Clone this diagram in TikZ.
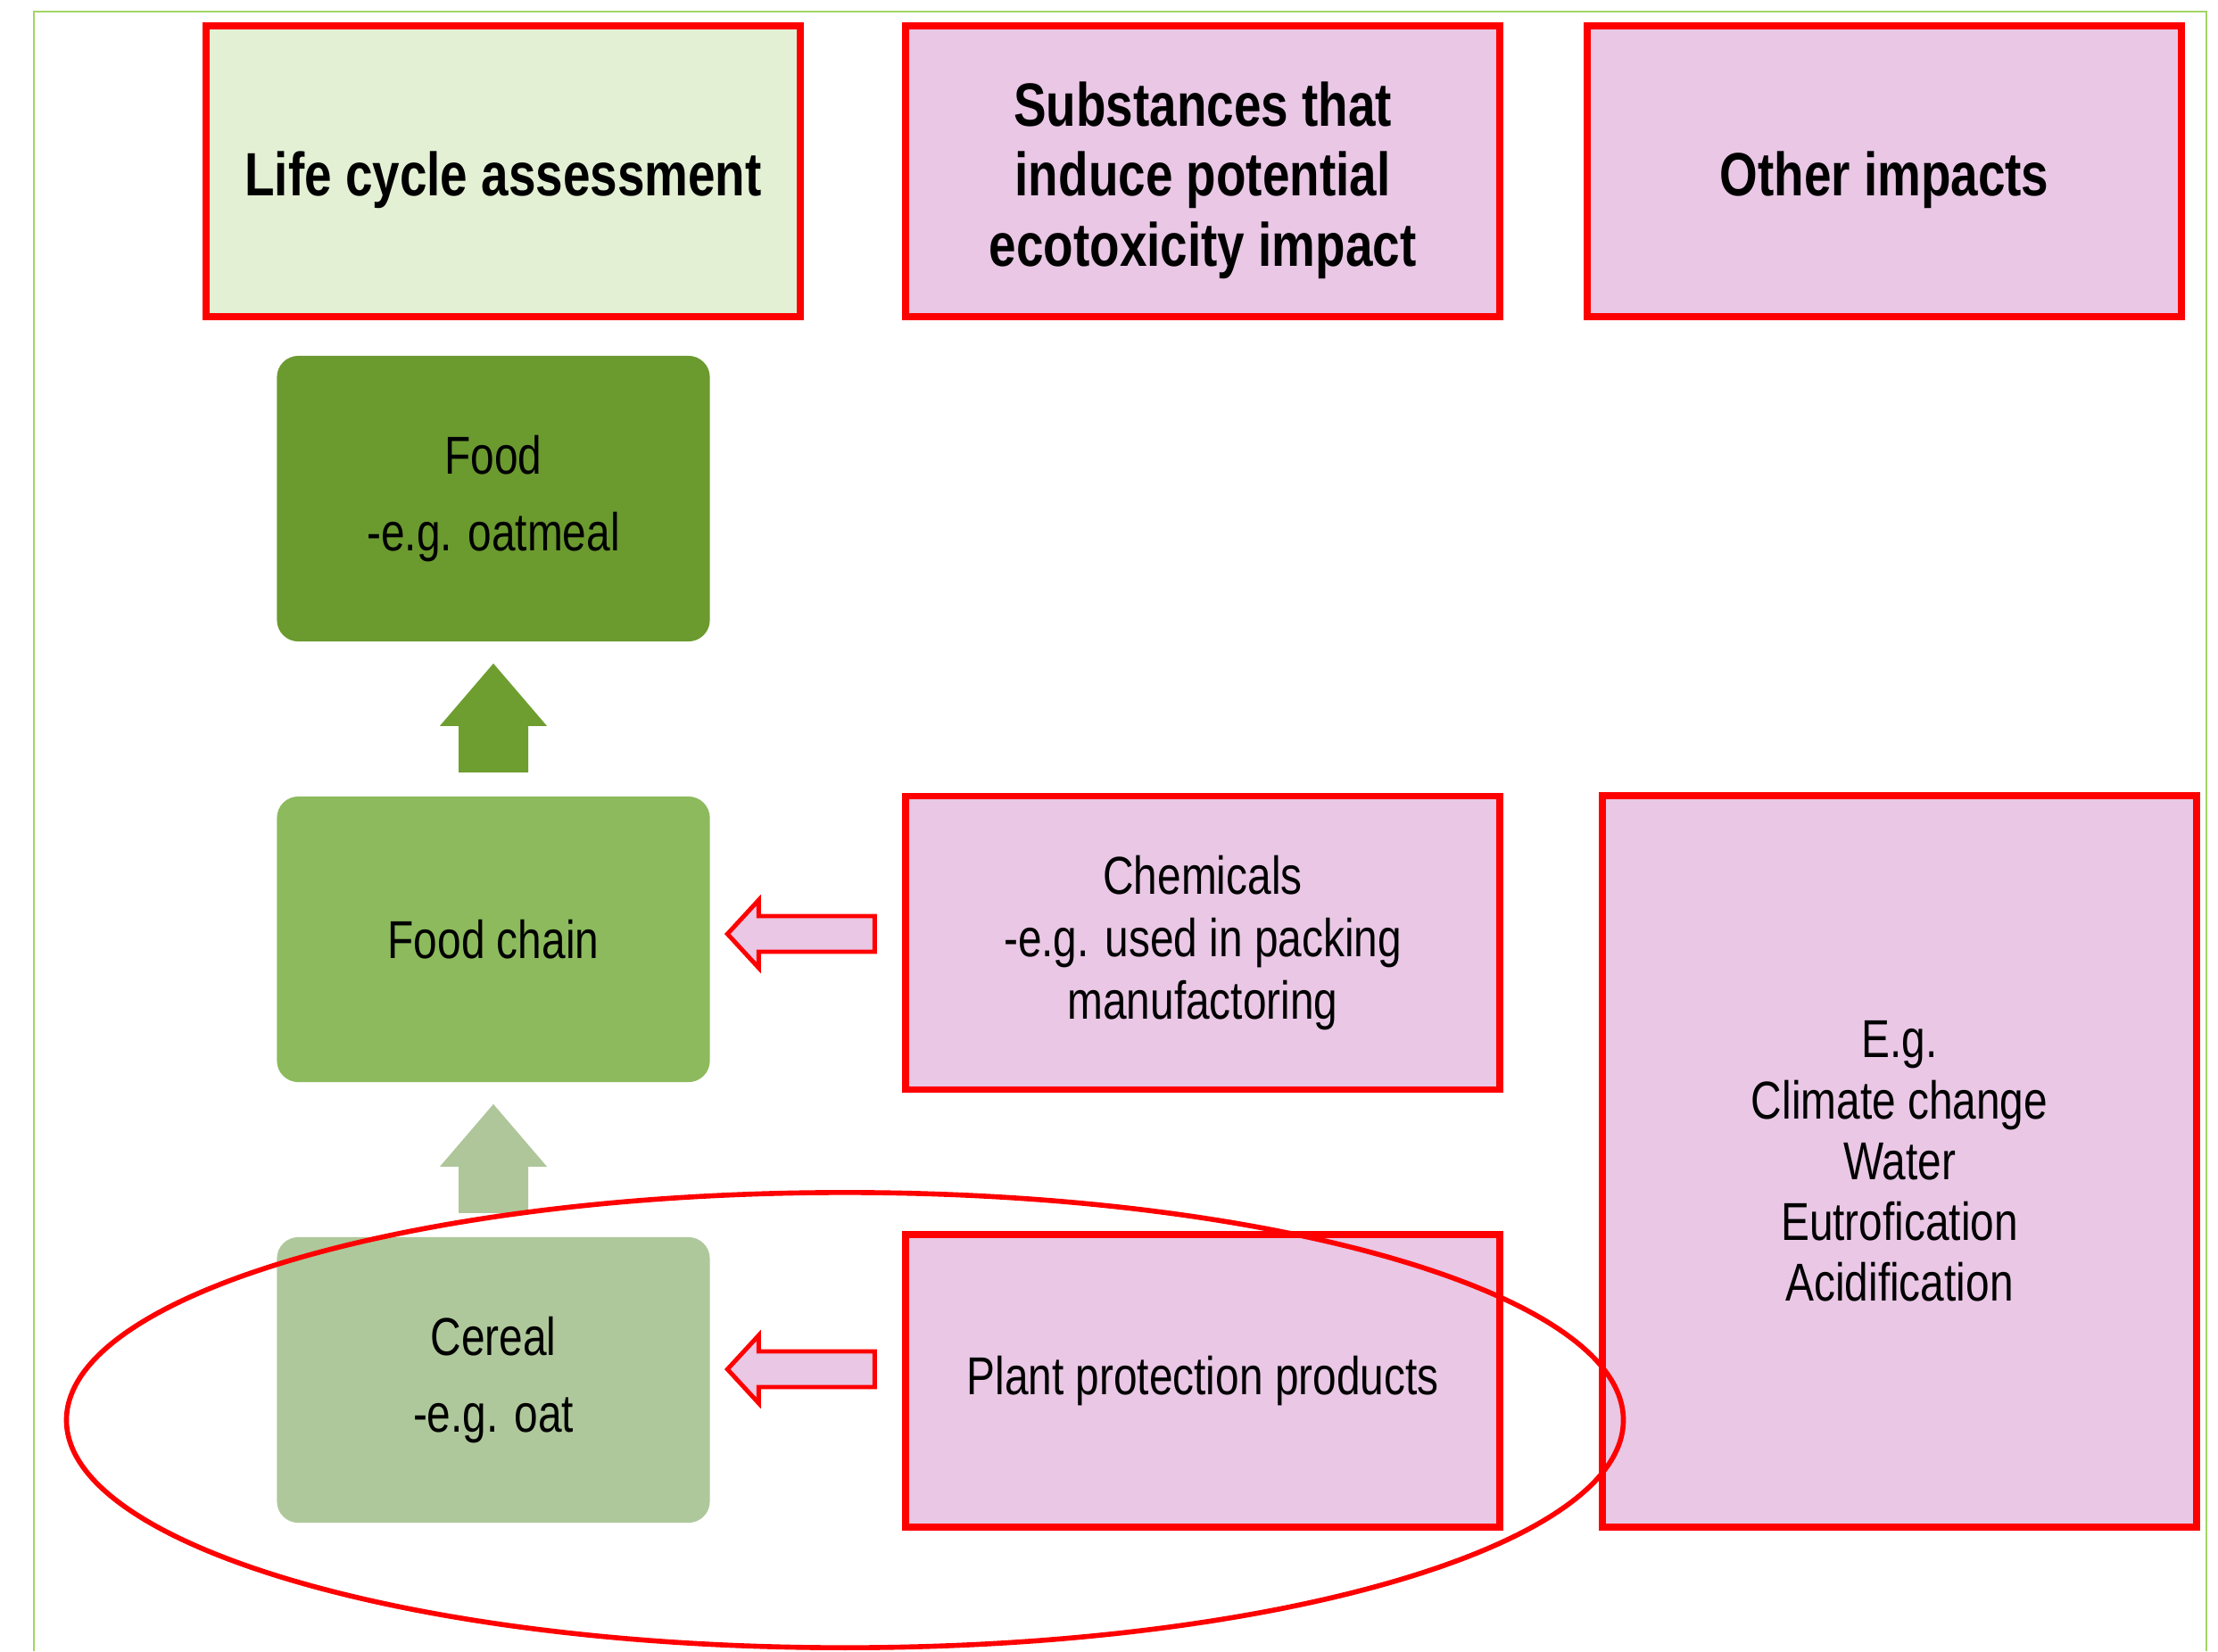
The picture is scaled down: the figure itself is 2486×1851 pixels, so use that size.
\documentclass[tikz,border=0pt]{standalone}
\usepackage{fontspec}
\setmainfont[FakeStretch=0.8]{Liberation Sans}
\usetikzlibrary{calc,shapes.geometric}
\definecolor{lcagreen}{HTML}{E3F0D4}
\definecolor{pinkfill}{HTML}{E9C7E5}
\definecolor{fooddark}{HTML}{6B9A2F}
\definecolor{foodmid}{HTML}{8CBA5D}
\definecolor{foodlight}{HTML}{AFC89B}
\definecolor{framegreen}{HTML}{A3D567}
\definecolor{arrowdark}{HTML}{6E9E2F}
\definecolor{arrowlight}{HTML}{AEC69A}
\begin{document}
\begin{tikzpicture}[x=0.01cm,y=-0.01cm,
  redbox/.style={draw=red, line width=2.2pt, fill=pinkfill, inner sep=0pt, align=center,
    font=\fontsize{17}{19.8}\selectfont},
  header/.style={redbox, minimum width=6.66cm, minimum height=3.26cm},
  hdrtext/.style={align=center, inner sep=0pt, yshift=-0.1cm,
    font=\fontsize{19.5}{22.3}\selectfont\bfseries},
  greenbox/.style={rounded corners=0.24cm, inner sep=0pt, minimum width=4.85cm,
    minimum height=3.2cm, align=center, font=\fontsize{17}{24.3}\selectfont},
  uparrow/.pic={\fill[pic actions] (0,0) -- (60,70) -- (39,70) -- (39,122) -- (-39,122)
    -- (-39,70) -- (-60,70) -- cycle;},
  leftarrow/.pic={\draw[pic actions] (0,0) -- (35,-38) -- (35,-20) -- (165,-20) -- (165,20)
    -- (35,20) -- (35,38) -- cycle;},
  outarrow/.style={draw=red, fill=pinkfill, line width=1.4pt, line join=miter},
]
\useasboundingbox (0,0) rectangle (2486,1851);
\draw[framegreen, line width=0.8pt] (38,1851) -- (38,13) -- (2473,13) -- (2473,1851);

\node[header, fill=lcagreen, label={[hdrtext]center:Life cycle assessment}] (lca) at (564,192) {};
\node[header, label={[hdrtext]center:{Substances that\\induce potential\\ecotoxicity impact}}] (subst) at (1348,192) {};
\node[header, label={[hdrtext]center:Other impacts}] (other) at (2112,192) {};

\node[greenbox, fill=fooddark] (food) at (553,559) {Food\\-e.g. oatmeal};
\node[greenbox, fill=foodmid] (chain) at (553,1053) {Food chain};
\node[greenbox, fill=foodlight] (cereal) at (553,1547) {Cereal\\-e.g. oat};

\node[redbox, minimum width=6.66cm, minimum height=3.29cm] (chem) at (1348,1057)
  {Chemicals\\-e.g. used in packing\\manufactoring};
\node[redbox, minimum width=6.66cm, minimum height=3.28cm] (ppp) at (1348,1548)
  {Plant protection products};
\node[redbox, minimum width=6.66cm, minimum height=8.19cm,
  font=\fontsize{17}{19.4}\selectfont] (eg) at (2129,1302)
  {E.g.\\Climate change\\Water\\Eutrofication\\Acidification};

\pic[fill=arrowdark] at ($(food.south)+(0,24)$) {uparrow};
\pic[fill=arrowlight] at ($(chain.south)+(0,24)$) {uparrow};

\pic[outarrow] at ($(chain.east)+(19,-6)$) {leftarrow};
\pic[outarrow] at ($(cereal.east)+(19,-12)$) {leftarrow};

\node[draw=red, line width=1.6pt, ellipse, inner sep=0pt, minimum width=17.44cm,
  minimum height=5.1cm] (focus) at (947,1592) {};
\end{tikzpicture}
\end{document}
